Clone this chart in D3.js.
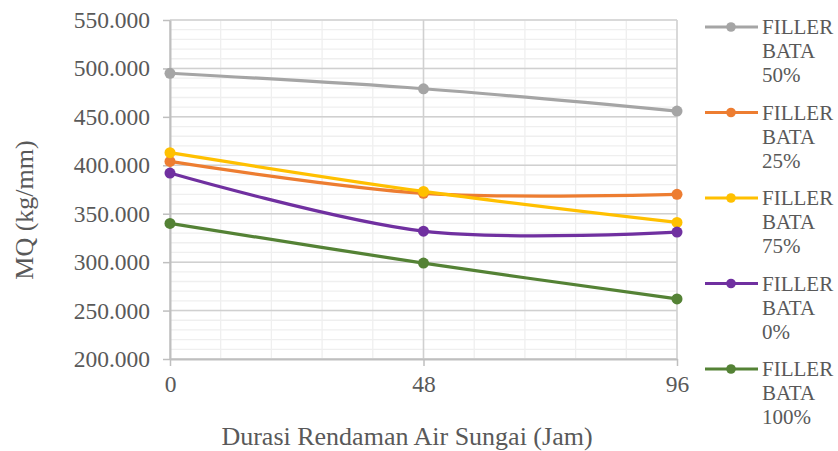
<!DOCTYPE html>
<html>
<head>
<meta charset="utf-8">
<script src="https://cdn.jsdelivr.net/npm/d3@7"></script>
<style>
  html, body { margin: 0; padding: 0; background: #fff; }
  svg text { font-family: "Liberation Serif", Tinos, "Times New Roman", "DejaVu Serif", serif; }
</style>
</head>
<body>
<svg id="chart" width="838" height="451"></svg>
<script>
// Soaking duration (hours) and MQ values for each brick-filler mix
const hours = [0, 48, 96];
const seriesNames = ["FILLER BATA 50%", "FILLER BATA 25%", "FILLER BATA 75%", "FILLER BATA 0%", "FILLER BATA 100%"];
const mq50 = [495, 479, 456];
const mq25 = [404, 371, 370];
const mq75 = [413, 373, 341];
const mq0 = [392, 332, 331];
const mq100 = [340, 299, 262];
const seriesColors = ["#A5A5A5", "#ED7D31", "#FFC000", "#7030A0", "#548235"];
const yTicks = [200, 250, 300, 350, 400, 450, 500, 550];
const xTicks = [0, 48, 96];
const yTitle = "MQ (kg/mm)";
const xTitle = "Durasi Rendaman Air Sungai (Jam)";

const series = seriesNames.map((name, i) => ({
  name,
  color: seriesColors[i],
  values: [mq50, mq25, mq75, mq0, mq100][i].map((v, j) => ({ x: hours[j], y: v }))
}));

const FONT = "'Liberation Serif', Tinos, 'Times New Roman', 'DejaVu Serif', serif";
const svg = d3.select("#chart");
const textColor = "#595959";
const plot = { left: 170, right: 677, top: 20, bottom: 359 };

const x = d3.scaleLinear().domain([0, 96]).range([plot.left, plot.right]);
const y = d3.scaleLinear().domain([200, 550]).range([plot.bottom, plot.top]);

// Minor gridlines (five per major interval)
const minorX = d3.range(0, 96.001, 9.6);
const minorY = d3.range(200, 550.001, 10);
const grid = svg.append("g");
grid.selectAll("line.mx").data(minorX).join("line")
  .attr("x1", d => x(d)).attr("x2", d => x(d))
  .attr("y1", plot.top).attr("y2", plot.bottom)
  .attr("stroke", "#EFEFEF").attr("stroke-width", 1.3);
grid.selectAll("line.my").data(minorY).join("line")
  .attr("x1", plot.left).attr("x2", plot.right)
  .attr("y1", d => y(d)).attr("y2", d => y(d))
  .attr("stroke", "#EFEFEF").attr("stroke-width", 1.3);

// Major gridlines
grid.selectAll("line.Mx").data(xTicks).join("line")
  .attr("x1", d => x(d)).attr("x2", d => x(d))
  .attr("y1", plot.top).attr("y2", plot.bottom)
  .attr("stroke", "#D0D0D0").attr("stroke-width", 1.5);
grid.selectAll("line.My").data(yTicks).join("line")
  .attr("x1", plot.left).attr("x2", plot.right)
  .attr("y1", d => y(d)).attr("y2", d => y(d))
  .attr("stroke", "#D0D0D0").attr("stroke-width", 1.5);

// Axes
const yAxis = d3.axisLeft(y).tickValues(yTicks).tickFormat(d3.format(".3f")).tickSizeInner(7).tickSizeOuter(0).tickPadding(13);
const xAxis = d3.axisBottom(x).tickValues(xTicks).tickFormat(d3.format("d")).tickSizeInner(7).tickSizeOuter(0).tickPadding(9);

const gy = svg.append("g").attr("transform", `translate(${plot.left},0)`).call(yAxis);
const gx = svg.append("g").attr("transform", `translate(0,${plot.bottom})`).call(xAxis);
[gx, gy].forEach(g => {
  g.attr("font-family", FONT);
  g.select(".domain").attr("stroke", "#BFBFBF").attr("stroke-width", 2);
  g.selectAll(".tick line").attr("stroke", "#BFBFBF").attr("stroke-width", 1.5);
  g.selectAll(".tick text").attr("fill", textColor).attr("font-size", 23.5)
    .attr("font-family", FONT);
});

// Axis titles
svg.append("text")
  .attr("transform", `translate(33,210) rotate(-90)`)
  .attr("text-anchor", "middle")
  .attr("font-family", FONT)
  .attr("fill", textColor).attr("font-size", 26)
  .text(yTitle);
svg.append("text")
  .attr("x", 407).attr("y", 445)
  .attr("text-anchor", "middle")
  .attr("font-family", FONT)
  .attr("fill", textColor).attr("font-size", 26)
  .text(xTitle);

// Smoothed series lines with markers
const line = d3.line().x(d => x(d.x)).y(d => y(d.y)).curve(d3.curveCatmullRom.alpha(0));
const sg = svg.append("g");
series.forEach(s => {
  sg.append("path").datum(s.values)
    .attr("d", line).attr("fill", "none")
    .attr("stroke", s.color).attr("stroke-width", 3.2)
    .attr("stroke-linecap", "round");
  sg.selectAll(null).data(s.values).join("circle")
    .attr("cx", d => x(d.x)).attr("cy", d => y(d.y)).attr("r", 5.5)
    .attr("fill", s.color);
});

// Legend
const legend = svg.append("g");
series.forEach((s, i) => {
  const ly = 27 + i * 85.5;
  const g = legend.append("g").attr("transform", `translate(0,${ly})`);
  g.append("line").attr("x1", 705).attr("x2", 758).attr("y1", 0).attr("y2", 0)
    .attr("stroke", s.color).attr("stroke-width", 3.2);
  g.append("circle").attr("cx", 731).attr("cy", 0).attr("r", 4.8).attr("fill", s.color);
  const t = g.append("text").attr("x", 762).attr("y", 7)
    .attr("font-family", FONT)
    .attr("fill", textColor).attr("font-size", 21);
  s.name.split(" ").forEach((w, k) => {
    t.append("tspan").attr("x", 762).attr("dy", k === 0 ? 0 : 24).text(w);
  });
});
</script>
</body>
</html>
